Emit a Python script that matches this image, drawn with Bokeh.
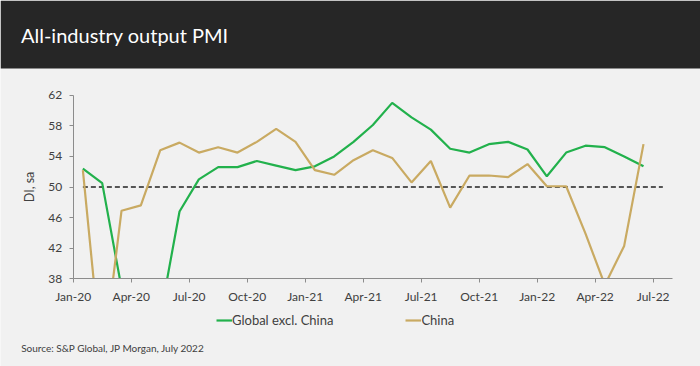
from bokeh.plotting import figure
from bokeh.models import Range1d, Legend, LegendItem, Label, FixedTicker, BoxAnnotation
from bokeh.embed import file_html
from bokeh.resources import INLINE

# ---- data ----
title_text = "All-industry output PMI"
source_text = "Source: S&P Global, JP Morgan, July 2022"
tick_labels = ["Jan-20", "Apr-20", "Jul-20", "Oct-20", "Jan-21", "Apr-21",
               "Jul-21", "Oct-21", "Jan-22", "Apr-22", "Jul-22"]
global_ex_china = [52.4, 50.5, 36.8, 24.0, 33.0, 46.8, 51.0, 52.6, 52.6, 53.4, 52.8, 52.2,
                   52.7, 54.0, 55.9, 58.1, 61.0, 59.1, 57.5, 55.0, 54.5, 55.6, 55.9, 54.9,
                   51.4, 54.5, 55.4, 55.2, 54.0, 52.7]
china = [52.2, 26.5, 46.9, 47.6, 54.8, 55.8, 54.5, 55.2, 54.5, 55.9, 57.6, 55.9,
         52.2, 51.6, 53.5, 54.8, 53.8, 50.6, 53.4, 47.3, 51.5, 51.5, 51.3, 53.0,
         50.1, 50.1, 43.9, 37.2, 42.3, 55.6]
ref_level = 50
n_ref_months = 31  # Jan-20 .. Jul-22
y_ticks = [38, 42, 46, 50, 54, 58, 62]

x_months = [i + 0.5 for i in range(len(china))]
ref_x = [i + 0.5 for i in range(n_ref_months)]
ref_y = [ref_level] * n_ref_months

# ---- layout (pixels inside the 700x366 canvas) ----
W, H = 700, 366
PLOT_L, PLOT_R = 72.7, 672.0      # x pixel of month 0 and month 31
PLOT_T, PLOT_B = 94.7, 278.3      # y pixel of top tick and bottom tick
X0, X1 = 0, n_ref_months
Y0, Y1 = y_ticks[0], y_ticks[-1]
sx = (PLOT_R - PLOT_L) / (X1 - X0)
sy = (PLOT_B - PLOT_T) / (Y1 - Y0)


def px_x(px):
    return X0 + (px - PLOT_L) / sx


def px_y(py):
    return Y1 + (PLOT_T - py) / sy


FONT = "Lato"
BG = "#f1f1f1"
DARK = "#262626"
TXT = "#404040"
AX = "#8c8c8c"
GREEN = "#22b14c"
TAN = "#c9aa62"

p = figure(width=W, height=H, x_range=Range1d(px_x(0), px_x(W)), y_range=Range1d(px_y(H), px_y(0)),
           toolbar_location=None, output_backend="svg", min_border=0,
           background_fill_color=BG, border_fill_color=BG, outline_line_color=None)
p.grid.visible = False

p.line(ref_x, ref_y, line_color="#555555", line_width=2, line_dash="5 3")
r1 = p.line(x_months, global_ex_china, line_color=GREEN, line_width=2.2)
r2 = p.line(x_months, china, line_color=TAN, line_width=2.2)

# hide everything below the axis floor (the chart's value range ends at 38)
p.add_layout(BoxAnnotation(top=Y0, fill_color=BG, fill_alpha=1, line_color=None, level="glyph"))

# axes sit at the data edges of the chart area
p.xaxis.fixed_location = Y0
p.xaxis.bounds = (X0, X1)
p.yaxis.fixed_location = X0
p.yaxis.bounds = (Y0, Y1)
p.xaxis.ticker = FixedTicker(ticks=[3 * i for i in range(len(tick_labels))])
p.xaxis.major_label_overrides = {3 * i: lab for i, lab in enumerate(tick_labels)}
p.yaxis.ticker = FixedTicker(ticks=y_ticks)
p.yaxis.axis_label = "DI, sa"

for ax in (p.xaxis[0], p.yaxis[0]):
    ax.axis_line_color = AX
    ax.major_tick_line_color = AX
    ax.major_tick_out = 4
    ax.major_tick_in = 0
    ax.minor_tick_line_color = None
    ax.major_label_text_font = FONT
    ax.major_label_text_font_size = "12px"
    ax.major_label_text_color = TXT
p.xaxis.major_label_standoff = 6
p.yaxis.major_label_standoff = 7
p.yaxis.axis_label_text_font = FONT
p.yaxis.axis_label_text_font_size = "12.5px"
p.yaxis.axis_label_text_font_style = "normal"
p.yaxis.axis_label_text_color = TXT
p.yaxis.axis_label_standoff = 9

legend = Legend(items=[LegendItem(label="Global excl. China", renderers=[r1]),
                       LegendItem(label="China", renderers=[r2])],
                orientation="horizontal", location=(216, H - 328),
                spacing=72, glyph_width=16, glyph_height=14, label_standoff=0,
                padding=0, margin=0, label_height=14, label_width=100,
                background_fill_alpha=0, border_line_alpha=0,
                label_text_font=FONT, label_text_font_size="13px", label_text_color=TXT)
p.add_layout(legend, "center")

# header band, title, source
p.add_layout(BoxAnnotation(bottom=px_y(68), fill_color=DARK, fill_alpha=1, line_color=None))
p.add_layout(Label(x=px_x(20.5), y=px_y(34), text=title_text,
                   text_color="white", text_font=FONT, text_font_size="20px",
                   text_baseline="middle"))
p.add_layout(Label(x=px_x(20.7), y=px_y(347.7), text=source_text,
                   text_color=TXT, text_font=FONT, text_font_size="10px",
                   text_baseline="middle"))

open("out.html", "w").write(file_html(p, INLINE))
